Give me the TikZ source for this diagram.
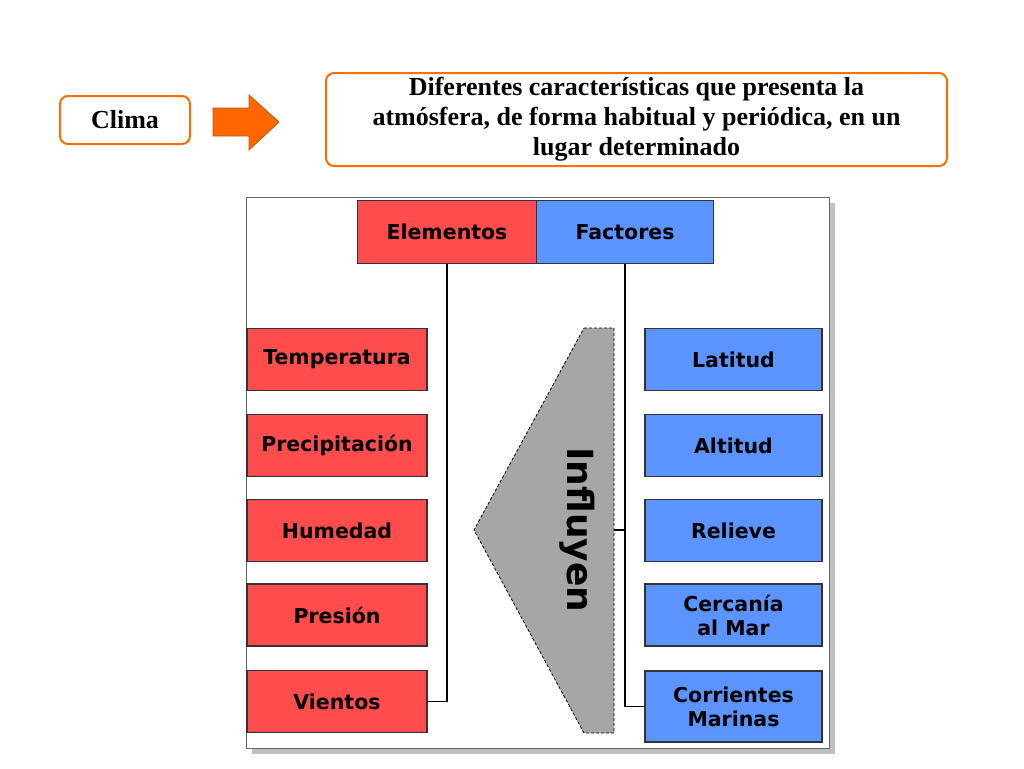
\documentclass[tikz,border=0pt]{standalone}
\usepackage{fontspec}
\setmainfont{Liberation Serif}
\newfontfamily\boxfont{DejaVu Sans}
\begin{document}
\begin{tikzpicture}[x=1pt,y=-1pt,
  ob/.style={draw=orange!85!red,line width=2pt,rounded corners=8pt,fill=white,font=\bfseries\fontsize{26}{30}\selectfont,align=center,inner sep=0pt},
  rb/.style={draw=black!80,line width=1.2pt,font=\boxfont\bfseries\fontsize{20.5}{24}\selectfont,align=center},
  bb/.style={draw=black!80,line width=1.2pt,font=\boxfont\bfseries\fontsize{20.5}{24}\selectfont,align=center},
  ln/.style={draw=black,line width=1.4pt}]
\useasboundingbox (0,0) rectangle (1024,768);
\definecolor{rc}{HTML}{FF4C4C}\definecolor{bc}{HTML}{5B93FF}
\tikzset{rb/.append style={fill=rc},bb/.append style={fill=bc}}
% top
\node[ob,minimum width=130pt,minimum height=48pt] (clima) at (125,120) {Clima};
\draw[draw=orange!70!black,fill=orange!80!red,line width=0.8pt] (213,108) -- (249,108) -- (249,95) -- (279,122) -- (249,150) -- (249,136) -- (213,136) -- cycle;
\node[ob,minimum width=621pt,minimum height=93pt] (def) at (636.5,119.5) {Diferentes características que presenta la\\atmósfera, de forma habitual y periódica, en un\\lugar determinado};
% frame
\fill[black!25] (252,203) rectangle (835,754);
\draw[fill=white,draw=black!60,line width=0.8pt] (246,197) rectangle (829,748);
\node[rb,minimum width=179pt,minimum height=63pt] (el) at (447,232) {Elementos};
\node[bb,minimum width=177pt,minimum height=63pt] (fa) at (625,232) {Factores};
\foreach \n/\t/\y in {t/Temperatura/359.5,p/Precipitación/445.5,h/Humedad/530.5,pr/Presión/615,v/Vientos/701.5}
  \node[rb,minimum width=180pt,minimum height=62pt] (\n) at (337,\y) {\t};
\node[bb,minimum width=177pt,minimum height=62pt] (la) at (733.5,359.5) {Latitud};
\node[bb,minimum width=177pt,minimum height=62pt] (al) at (733.5,445.5) {Altitud};
\node[bb,minimum width=177pt,minimum height=62pt] (re) at (733.5,530.5) {Relieve};
\node[bb,minimum width=177pt,minimum height=62pt] (ce) at (733.5,615) {Cercanía\\al Mar};
\node[bb,minimum width=177pt,minimum height=71pt] (co) at (733.5,706.5) {Corrientes\\Marinas};
% connectors
\draw[ln] (el.south) |- (v.east);
\draw[ln] (fa.south) |- (co.west);
\draw[fill=black!35,draw=black,line width=0.8pt,densely dashed] (584,328) -- (614,328) -- (614,733) -- (584,733) -- (474,530) -- cycle;
\coordinate (ip) at (614,530);
\draw[ln] (ip) -- (625,530);
\node[rotate=-90,font=\boxfont\bfseries\fontsize{36}{40}\selectfont] (inf) at (577,530) {Influyen};
\end{tikzpicture}
\end{document}
